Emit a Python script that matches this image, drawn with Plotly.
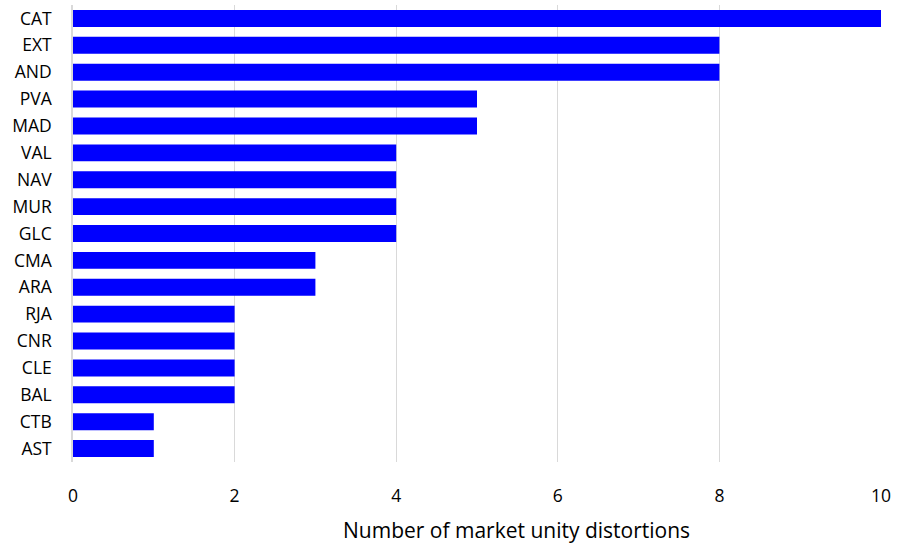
import plotly.graph_objects as go

regions = ["CAT", "EXT", "AND", "PVA", "MAD", "VAL", "NAV", "MUR", "GLC",
           "CMA", "ARA", "RJA", "CNR", "CLE", "BAL", "CTB", "AST"]
distortions = [10, 8, 8, 5, 5, 4, 4, 4, 4, 3, 3, 2, 2, 2, 2, 1, 1]
x_ticks = [0, 2, 4, 6, 8, 10]
x_title = "Number of market unity distortions"

fig = go.Figure(go.Bar(
    x=distortions, y=regions, orientation="h",
    marker=dict(color="#0000FF", line=dict(width=0)),
))

font = dict(family="Open Sans, Liberation Sans, sans-serif", size=17.5, color="#000000")
fig.update_layout(
    width=897, height=545,
    margin=dict(l=73, r=16, t=5, b=83),
    plot_bgcolor="white", paper_bgcolor="white",
    font=font, bargap=0.37, showlegend=False,
    xaxis=dict(range=[0, 10], tickvals=x_ticks, showgrid=True, gridcolor="#d9d9d9",
               gridwidth=1.3, zeroline=False, showline=False, ticklabelstandoff=21),
    yaxis=dict(categoryorder="array", categoryarray=regions[::-1], autorange=True,
               showgrid=False, zeroline=False, showline=True, linecolor="#d9d9d9",
               linewidth=1.5, ticklabelstandoff=16),
)
fig.add_annotation(text=x_title, xref="paper", yref="paper", x=0.5495, y=-0.149,
                   xanchor="center", yanchor="middle", showarrow=False,
                   font=dict(size=21))
fig.write_html("out.html")
